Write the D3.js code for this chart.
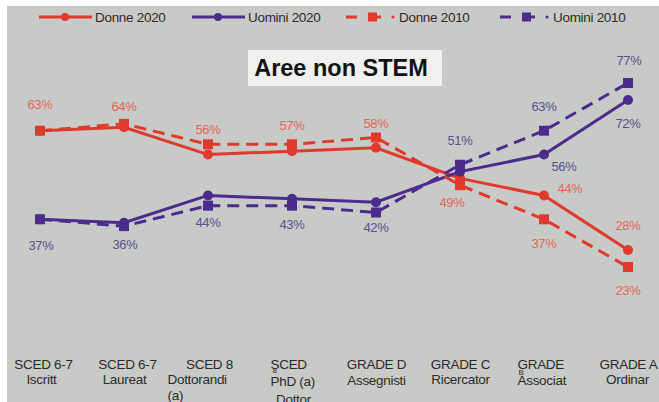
<!DOCTYPE html>
<html>
<head>
<meta charset="utf-8">
<script src="https://cdn.jsdelivr.net/npm/d3@7"></script>
<style>
  body { margin: 0; background: #fff; }
  svg { display: block; font-family: "Liberation Sans", Arial, sans-serif; }
</style>
</head>
<body>
<script>
const W = 659, H = 402

// categories (x axis), each split in its lines as in the picture
const categories = ["c1", "c2", "c3", "c4", "c5", "c6", "c7", "c8"]
const tickLines = [
  ["SCED 6-7", "Iscritt"],
  ["SCED 6-7", "Laureat"],
  ["SCED 8", "Dottorandi", "(a)"],
  ["SCED", "8", "PhD (a)", "Dottor"],
  ["GRADE D", "Assegnisti"],
  ["GRADE C", "Ricercator"],
  ["GRADE", "B", "Associat"],
  ["GRADE A", "Ordinar"]
]

// percent of women / men
const donne2020 = [63, 64, 56, 57, 58, 49, 44, 28]
const uomini2020 = [37, 36, 44, 43, 42, 51, 56, 72]
const donne2010 = [63, 65, 59, 59, 61, 47, 37, 23]
const uomini2010 = [37, 35, 41, 41, 39, 53, 63, 77]

const seriesNames = ["Donne 2020", "Uomini 2020", "Donne 2010", "Uomini 2010"]
const title = "Aree non STEM"

const red = "#e0392e", purple = "#4b2c8c"
const series = [
  {name: seriesNames[0], values: donne2020, color: red, dash: null, marker: "circle", label: "#e2675b"},
  {name: seriesNames[1], values: uomini2020, color: purple, dash: null, marker: "circle", label: "#5b4e8c"},
  {name: seriesNames[2], values: donne2010, color: red, dash: "12,7", marker: "square", label: "#e2675b"},
  {name: seriesNames[3], values: uomini2010, color: purple, dash: "12,7", marker: "square", label: "#5b4e8c"}
]

// which value labels are shown and where (series index, category index, offset)
const valueLabels = [
  [0, 0, 0, -26], [0, 1, 0, -21], [0, 2, 0, -25], [0, 3, 0, -26], [0, 4, 0, -24],
  [0, 5, -8, 24], [0, 6, 26, -7], [0, 7, 0, -25],
  [1, 0, 1, 26], [1, 1, 1, 22], [1, 2, 0, 27], [1, 3, 0, 26], [1, 4, 0, 25],
  [1, 5, 0, -31], [1, 6, 20, 12], [1, 7, 0, 23],
  [2, 6, 0, 24], [2, 7, 0, 23],
  [3, 6, 0, -24], [3, 7, 1, -23]
]

const svg = d3.select("body").append("svg")
  .attr("width", W)
  .attr("height", H)

// grey slide background
svg.append("rect")
  .attr("x", 7).attr("y", 6)
  .attr("width", W - 7).attr("height", H - 6)
  .attr("fill", "#c8cac7")

const x = d3.scalePoint()
  .domain(categories)
  .range([40, 628])

const y = d3.scaleLinear()
  .domain([0, 100])
  .range([345.4, 4.6])

// title box
svg.append("rect")
  .attr("x", 248).attr("y", 50)
  .attr("width", 194).attr("height", 36)
  .attr("fill", "#f0f1ef")
svg.append("text")
  .attr("x", 341).attr("y", 76)
  .attr("text-anchor", "middle")
  .attr("fill", "#111")
  .style("font-size", "23.5px")
  .style("font-weight", "bold")
  .text(title)

// x axis: only the labels
const xAxis = svg.append("g")
  .attr("transform", "translate(0,358)")
  .call(d3.axisBottom(x).tickSize(0).tickFormat(""))
xAxis.select(".domain").remove()

// per line: [dx, dy, anchor, size]
const tickLayout = [
  [[3, 6, "middle"], [1, 21, "middle"]],
  [[3, 6, "middle"], [0, 21, "middle"]],
  [[1, 6, "middle"], [-41, 21, "start"], [-41, 37, "start"]],
  [[-22, 6, "start"], [-20, 12, "start", 8], [-22, 23, "start"], [1, 41, "middle"]],
  [[0, 6, "middle"], [0, 22, "middle"]],
  [[0, 6, "middle"], [0, 21, "middle"]],
  [[-27, 6, "start"], [-26, 14, "start", 8], [-27, 22, "start"]],
  [[0, 6, "middle"], [-1, 21, "middle"]]
]

xAxis.selectAll(".tick").each(function(d, i) {
  const t = d3.select(this)
  t.select("text").remove()
  tickLines[i].forEach((line, j) => {
    const l = tickLayout[i][j]
    t.append("text")
      .attr("x", l[0])
      .attr("y", l[1])
      .attr("dy", "0.35em")
      .attr("text-anchor", l[2])
      .attr("fill", "#2a2a2a")
      .style("font-size", (l[3] || 13.5) + "px")
      .style("letter-spacing", "-0.3px")
      .text(line)
  })
})

const line = d3.line()
  .x((d, i) => x(categories[i]))
  .y(d => y(d))

// lines
series.forEach(s => {
  svg.append("path")
    .datum(s.values)
    .attr("d", line)
    .attr("fill", "none")
    .attr("stroke", s.color)
    .attr("stroke-width", 3)
    .attr("stroke-dasharray", s.dash)
})

// markers, 2020 circles first, 2010 squares on top
series.forEach(s => {
  const g = svg.append("g").attr("fill", s.color)
  if (s.marker == "circle") {
    g.selectAll("circle").data(s.values).enter().append("circle")
      .attr("cx", (d, i) => x(categories[i]))
      .attr("cy", d => y(d))
      .attr("r", 5)
  } else {
    g.selectAll("rect").data(s.values).enter().append("rect")
      .attr("x", (d, i) => x(categories[i]) - 5)
      .attr("y", d => y(d) - 5)
      .attr("width", 10)
      .attr("height", 10)
  }
})

// value labels
valueLabels.forEach(([si, ci, dx, dy]) => {
  const s = series[si]
  svg.append("text")
    .attr("x", x(categories[ci]) + dx)
    .attr("y", y(s.values[ci]) + dy)
    .attr("dy", "0.35em")
    .attr("text-anchor", "middle")
    .attr("fill", s.label)
    .style("font-size", "13px")
    .style("letter-spacing", "-0.3px")
    .text(s.values[ci] + "%")
})

// legend
const legendX = [39, 192, 346, 500]
series.forEach((s, i) => {
  const g = svg.append("g").attr("transform", "translate(" + legendX[i] + ",17)")
  if (s.marker == "circle") {
    g.append("line").attr("x1", 0).attr("x2", 53)
      .attr("stroke", s.color).attr("stroke-width", 3)
    g.append("circle").attr("cx", 26).attr("r", 4).attr("fill", s.color)
    g.append("text").attr("x", 56).attr("dy", "0.35em")
      .attr("fill", "#2a2a2a").style("font-size", "13.5px")
      .style("letter-spacing", "-0.3px")
      .text(s.name)
  } else {
    g.append("line").attr("x1", 0).attr("x2", 11)
      .attr("stroke", s.color).attr("stroke-width", 3)
    g.append("line").attr("x1", 22).attr("x2", 35)
      .attr("stroke", s.color).attr("stroke-width", 3)
    g.append("rect").attr("x", 22).attr("y", -4.5).attr("width", 9).attr("height", 9)
      .attr("fill", s.color)
    g.append("circle").attr("cx", 47).attr("r", 1.6).attr("fill", s.color)
    g.append("text").attr("x", 53).attr("dy", "0.35em")
      .attr("fill", "#2a2a2a").style("font-size", "13.5px")
      .style("letter-spacing", "-0.3px")
      .text(s.name)
  }
})
</script>
</body>
</html>
